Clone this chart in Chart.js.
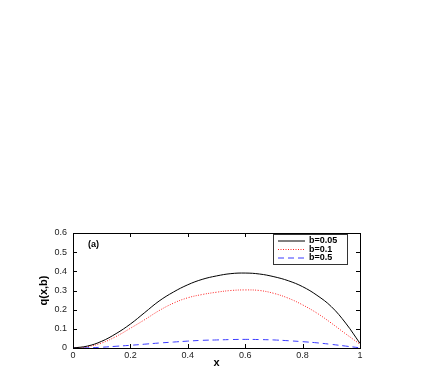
<!DOCTYPE html>
<html>
<head>
<meta charset="utf-8">
<script src="https://cdn.jsdelivr.net/npm/chart.js@4"></script>
<style>
  html, body { margin: 0; padding: 0; background: #fff; }
  #wrap { width: 436px; height: 382px; }
</style>
</head>
<body>
<div id="wrap"><canvas id="q-chart" width="436" height="382"></canvas></div>
<script>
var xs = [0, 0.05, 0.1, 0.15, 0.2, 0.25, 0.3, 0.35, 0.4, 0.45, 0.5,
          0.55, 0.6, 0.65, 0.7, 0.75, 0.8, 0.85, 0.9, 0.95, 1];
var q005 = [0, 0.01, 0.035, 0.075, 0.125, 0.185, 0.245, 0.292, 0.33, 0.358, 0.376,
            0.388, 0.391, 0.386, 0.372, 0.351, 0.32, 0.275, 0.216, 0.13, 0.024];
var q01 = [0, 0.007, 0.026, 0.06, 0.103, 0.148, 0.195, 0.234, 0.262, 0.279, 0.291,
           0.3, 0.303, 0.3, 0.285, 0.26, 0.225, 0.182, 0.13, 0.074, 0.02];
var q05 = [0, 0.001, 0.004, 0.009, 0.014, 0.02, 0.026, 0.031, 0.036, 0.04, 0.042,
           0.044, 0.045, 0.044, 0.042, 0.038, 0.033, 0.027, 0.019, 0.01, 0.001];
var seriesLabels = ['b=0.05', 'b=0.1', 'b=0.5'];
var xTicks = [0, 0.2, 0.4, 0.6, 0.8, 1];
var yTicks = [0, 0.1, 0.2, 0.3, 0.4, 0.5, 0.6];

function pts(ys) {
    return xs.map(function (x, i) { return { x: x, y: ys[i] }; });
}

// gnuplot-like frame, inward ticks, legend box and "(a)"
var framePlugin = {
    id: 'frame',
    afterDatasetsDraw: function (chart) {
        var c = chart.ctx, a = chart.chartArea;
        var sx = chart.scales.x, sy = chart.scales.y;
        c.save();
        c.strokeStyle = '#000';
        c.lineWidth = 1;
        c.strokeRect(a.left + 0.5, a.top + 0.5, a.right - a.left, a.bottom - a.top);
        c.beginPath();
        xTicks.forEach(function (v) {
            var px = Math.round(sx.getPixelForValue(v)) + 0.5;
            c.moveTo(px, a.bottom); c.lineTo(px, a.bottom - 4);
            c.moveTo(px, a.top); c.lineTo(px, a.top + 4);
        });
        yTicks.forEach(function (v) {
            var py = Math.round(sy.getPixelForValue(v)) + 0.5;
            c.moveTo(a.left, py); c.lineTo(a.left + 4, py);
            c.moveTo(a.right, py); c.lineTo(a.right - 4, py);
        });
        c.stroke();

        // legend box
        var bx = 273, by = 234, bw = 74, bh = 30;
        c.fillStyle = '#fff';
        c.fillRect(bx, by, bw, bh);
        c.strokeStyle = '#333';
        c.strokeRect(bx + 0.5, by + 0.5, bw, bh);
        c.font = 'bold 9px "Liberation Sans", Arial, sans-serif';
        c.textBaseline = 'middle';
        chart.data.datasets.forEach(function (ds, i) {
            var ly = by + 7 + i * 8.5;
            c.beginPath();
            c.strokeStyle = ds.borderColor;
            c.lineWidth = 1;
            c.setLineDash(ds.borderDash || []);
            c.moveTo(278, ly); c.lineTo(305, ly);
            c.stroke();
            c.setLineDash([]);
            c.fillStyle = '#000';
            c.fillText(ds.label, 309, ly);
        });

        c.fillText('(a)', 88, 245);
        c.restore();
    }
};

var ctx = document.getElementById('q-chart').getContext('2d');
var myChart = new Chart(ctx, {
    type: 'line',
    data: {
        datasets: [{
            label: seriesLabels[0],
            data: pts(q005),
            borderColor: '#000000',
            borderWidth: 1
        }, {
            label: seriesLabels[1],
            data: pts(q01),
            borderColor: '#ff2020',
            borderWidth: 1,
            borderDash: [1, 1.5]
        }, {
            label: seriesLabels[2],
            data: pts(q05),
            borderColor: '#3a3aff',
            borderWidth: 1,
            borderDash: [6, 4]
        }]
    },
    options: {
        responsive: false,
        animation: false,
        layout: { padding: { left: 0, top: 233, right: 76, bottom: 0 } },
        elements: {
            point: { radius: 0 },
            line: { tension: 0.4, fill: false }
        },
        plugins: {
            legend: { display: false },
            tooltip: { enabled: false }
        },
        scales: {
            x: {
                type: 'linear',
                min: 0,
                max: 1,
                afterBuildTicks: function (s) { s.ticks = xTicks.map(function (v) { return { value: v }; }); },
                afterFit: function (s) { s.height = 34; },
                grid: { display: false, drawTicks: false },
                border: { display: false },
                ticks: {
                    padding: 2,
                    maxRotation: 0,
                    color: '#222',
                    font: { family: '"Liberation Sans", Arial, sans-serif', size: 9 },
                    callback: function (v) { return String(v); }
                },
                title: {
                    display: true,
                    text: 'x',
                    color: '#000',
                    padding: { top: 0, bottom: 12 },
                    font: { family: '"Liberation Sans", Arial, sans-serif', size: 11, weight: 'bold' }
                }
            },
            y: {
                min: 0,
                max: 0.6,
                afterBuildTicks: function (s) { s.ticks = yTicks.map(function (v) { return { value: v }; }); },
                afterFit: function (s) { s.width = 73; },
                grid: { display: false, drawTicks: false },
                border: { display: false },
                ticks: {
                    padding: 6,
                    color: '#222',
                    font: { family: '"Liberation Sans", Arial, sans-serif', size: 9 },
                    callback: function (v) { return String(v); }
                },
                title: {
                    display: true,
                    text: 'q(x,b)',
                    color: '#000',
                    padding: { top: 37, bottom: 0 },
                    font: { family: '"Liberation Sans", Arial, sans-serif', size: 11, weight: 'bold' }
                }
            }
        }
    },
    plugins: [framePlugin]
});
</script>
</body>
</html>
